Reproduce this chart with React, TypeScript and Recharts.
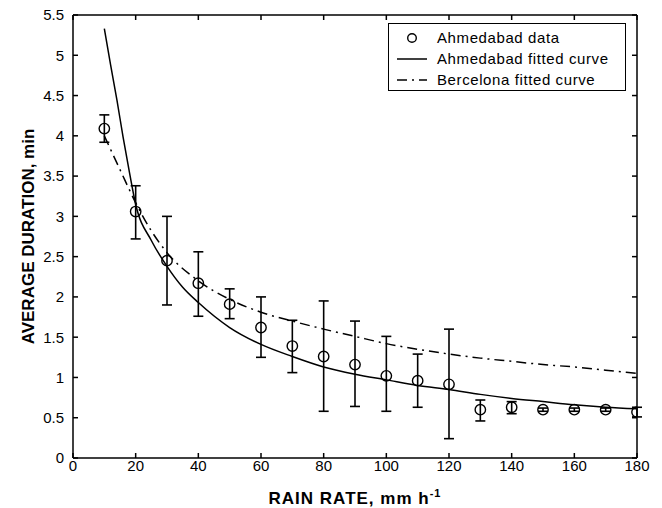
import {
  ComposedChart,
  ErrorBar,
  Line,
  Scatter,
  XAxis,
  YAxis,
} from "recharts";

const FONT = "'Liberation Sans', Arial, Helvetica, sans-serif";

// Ahmedabad measured data (circles + error bars)
const rainRate = [10, 20, 30, 40, 50, 60, 70, 80, 90, 100, 110, 120, 130, 140, 150, 160, 170, 180];
const avgDuration = [4.09, 3.06, 2.45, 2.17, 1.91, 1.62, 1.39, 1.26, 1.16, 1.02, 0.96, 0.915, 0.6, 0.63, 0.6, 0.6, 0.6, 0.57];
const errLow = [0.17, 0.34, 0.55, 0.41, 0.18, 0.37, 0.33, 0.68, 0.52, 0.44, 0.33, 0.675, 0.14, 0.08, 0.02, 0.02, 0.02, 0.06];
const errHigh = [0.17, 0.32, 0.55, 0.39, 0.19, 0.38, 0.32, 0.69, 0.54, 0.49, 0.33, 0.685, 0.12, 0.07, 0.02, 0.02, 0.02, 0.06];

// fitted curves
const ahmFitX = [10, 12, 14, 16, 18, 20, 25, 30, 35, 40, 50, 60, 70, 80, 90, 100, 110, 120, 130, 140, 150, 160, 170, 180];
const ahmFitY = [5.33, 4.88, 4.45, 3.98, 3.55, 3.15, 2.7, 2.38, 2.12, 1.93, 1.62, 1.41, 1.26, 1.13, 1.04, 0.97, 0.9, 0.85, 0.79, 0.74, 0.7, 0.66, 0.63, 0.61];
const barFitX = [10, 15, 20, 25, 30, 40, 50, 60, 70, 80, 90, 100, 110, 120, 130, 140, 150, 160, 170, 180];
const barFitY = [4.0, 3.58, 3.17, 2.82, 2.55, 2.2, 1.97, 1.81, 1.7, 1.6, 1.51, 1.42, 1.35, 1.29, 1.24, 1.2, 1.16, 1.13, 1.09, 1.05];

const xTicks = [0, 20, 40, 60, 80, 100, 120, 140, 160, 180];
const yTicks = [0, 0.5, 1, 1.5, 2, 2.5, 3, 3.5, 4, 4.5, 5, 5.5];

const points = rainRate.map((x, i) => ({ x, y: avgDuration[i], err: [errLow[i], errHigh[i]] }));
const ahmFit = ahmFitX.map((x, i) => ({ x, y: ahmFitY[i] }));
const barFit = barFitX.map((x, i) => ({ x, y: barFitY[i] }));

const DASHDOT = "10 5 2 5";

// box-side axes keep their tick marks but show no labels
const noLabel = () => <g />;

function OpenCircle(props: any) {
  const { cx, cy } = props;
  if (cx == null || cy == null) return null;
  return <circle cx={cx} cy={cy} r={5.2} fill="none" stroke="#000" strokeWidth={1.4} />;
}

function XLabel(props: any) {
  const vb = props.viewBox;
  return (
    <text
      x={vb.x + vb.width / 2}
      y={vb.y + 46}
      textAnchor="middle"
      fontFamily={FONT}
      fontWeight="bold"
      fontSize={17}
      letterSpacing={1}
      fill="#000"
    >
      RAIN RATE, mm h
      <tspan fontSize={11} dy={-7}>-1</tspan>
    </text>
  );
}

function YLabel(props: any) {
  const vb = props.viewBox;
  const cx = vb.x + 28;
  const cy = vb.y + vb.height / 2;
  return (
    <text
      x={cx}
      y={cy}
      transform={`rotate(-90 ${cx} ${cy})`}
      textAnchor="middle"
      dominantBaseline="central"
      fontFamily={FONT}
      fontWeight="bold"
      fontSize={17}
      fill="#000"
    >
      AVERAGE DURATION, min
    </text>
  );
}

function LegendBox() {
  const row = { display: "flex", alignItems: "center", height: 21 } as const;
  const txt = { fontSize: 15, letterSpacing: 0.6, color: "#000", marginLeft: 10 } as const;
  return (
    <div
      style={{
        position: "absolute",
        left: 388,
        top: 23,
        border: "1.5px solid #000",
        background: "#fff",
        width: 238,
        height: 68,
        boxSizing: "border-box",
        padding: "3px 0 0 8px",
        fontFamily: FONT,
      }}
    >
      <div style={row}>
        <svg width={30} height={12}>
          <circle cx={15} cy={6} r={4.3} fill="none" stroke="#000" strokeWidth={1.4} />
        </svg>
        <span style={txt}>Ahmedabad data</span>
      </div>
      <div style={row}>
        <svg width={30} height={12}>
          <line x1={0} y1={6} x2={30} y2={6} stroke="#000" strokeWidth={1.5} />
        </svg>
        <span style={txt}>Ahmedabad fitted curve</span>
      </div>
      <div style={row}>
        <svg width={30} height={12}>
          <line x1={0} y1={6} x2={30} y2={6} stroke="#000" strokeWidth={1.5} strokeDasharray={DASHDOT} />
        </svg>
        <span style={txt}>Bercelona fitted curve</span>
      </div>
    </div>
  );
}

export default function App() {
  return (
    <div style={{ position: "absolute", left: 0, top: 0, width: 662, height: 508, background: "#fff" }}>
      <ComposedChart width={662} height={508} margin={{ top: 14, right: 24, bottom: 0, left: 0 }}>
        <XAxis
          xAxisId="b"
          type="number"
          dataKey="x"
          domain={[0, 180]}
          ticks={xTicks}
          height={50}
          tickSize={-5}
          tickMargin={7}
          stroke="#000"
          strokeWidth={1.5}
          tick={{ fill: "#000", fontSize: 15, fontFamily: FONT }}
          allowDataOverflow
          label={<XLabel />}
        />
        <XAxis
          xAxisId="t"
          orientation="top"
          type="number"
          dataKey="x"
          domain={[0, 180]}
          ticks={xTicks}
          height={1}
          tickSize={-5}
          tick={noLabel}
          stroke="#000"
          strokeWidth={1.5}
          allowDataOverflow
        />
        <YAxis
          yAxisId="l"
          type="number"
          dataKey="y"
          domain={[0, 5.5]}
          ticks={yTicks}
          width={73}
          tickSize={-5}
          tickMargin={14}
          stroke="#000"
          strokeWidth={1.5}
          tick={{ fill: "#000", fontSize: 15, fontFamily: FONT }}
          allowDataOverflow
          label={<YLabel />}
        />
        <YAxis
          yAxisId="r"
          orientation="right"
          type="number"
          domain={[0, 5.5]}
          ticks={yTicks}
          width={1}
          tickSize={-5}
          tick={noLabel}
          stroke="#000"
          strokeWidth={1.5}
          allowDataOverflow
        />
        <Line
          xAxisId="b"
          yAxisId="l"
          data={barFit}
          dataKey="y"
          type="monotone"
          stroke="#000"
          strokeWidth={1.5}
          strokeDasharray={DASHDOT}
          dot={false}
          activeDot={false}
          isAnimationActive={false}
        />
        <Line
          xAxisId="b"
          yAxisId="l"
          data={ahmFit}
          dataKey="y"
          type="monotone"
          stroke="#000"
          strokeWidth={1.5}
          dot={false}
          activeDot={false}
          isAnimationActive={false}
        />
        <Scatter
          xAxisId="b"
          yAxisId="l"
          data={points}
          dataKey="y"
          shape={<OpenCircle />}
          isAnimationActive={false}
        >
          <ErrorBar dataKey="err" direction="y" width={5} stroke="#000" strokeWidth={1.6} isAnimationActive={false} />
        </Scatter>
      </ComposedChart>
      <LegendBox />
    </div>
  );
}
